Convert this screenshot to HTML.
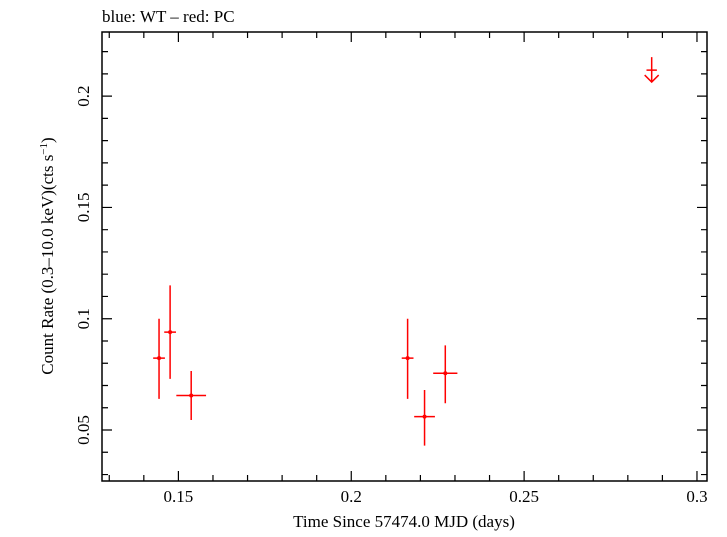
<!DOCTYPE html>
<html><head><meta charset="utf-8"><style>
body{margin:0;background:#fff;}
svg text{font-family:"Liberation Serif",serif;fill:#000;}
</style></head><body>
<svg id="chart" width="727" height="532" xmlns="http://www.w3.org/2000/svg">
<text x="102" y="22" font-size="17">blue: WT – red: PC</text>
<g id="axes"></g>
<g id="marks"></g>
<text x="404" y="527" font-size="17" text-anchor="middle">Time Since 57474.0 MJD (days)</text>
<text transform="translate(53,256) rotate(-90)" font-size="17" text-anchor="middle">Count Rate (0.3–10.0 keV)(cts s<tspan font-size="11" dy="-6">−1</tspan><tspan dy="6">)</tspan></text>
</svg>
<script>
const xs=[0.1444,0.1476,0.1537,0.2163,0.2212,0.2272];
const xerr=[0.0017,0.0017,0.0043,0.0017,0.003,0.0035];
const ys=[0.0823,0.094,0.0655,0.0823,0.056,0.0755];
const yhi=[0.1,0.115,0.0765,0.1,0.068,0.088];
const ylo=[0.064,0.073,0.0545,0.064,0.043,0.062];
const ulX=[0.2869];const ulXerr=[0.0015];const ulY=[0.2117];
const xTicks=[0.15,0.2,0.25,0.3];const xTickLabels=["0.15","0.2","0.25","0.3"];
const yTicks=[0.05,0.1,0.15,0.2];const yTickLabels=["0.05","0.1","0.15","0.2"];
const L=102,R=707,T=32,B=481,x0=0.1279,x1=0.3029,y0=0.0271,y1=0.2288;
const X=v=>L+(v-x0)/(x1-x0)*(R-L);
const Y=v=>B-(v-y0)/(y1-y0)*(B-T);
const NS="http://www.w3.org/2000/svg";
function mk(p,t,a){const e=document.createElementNS(NS,t);for(const k in a)e.setAttribute(k,a[k]);p.appendChild(e);return e;}
const ax=document.getElementById('axes'),mg=document.getElementById('marks');
const fr=mk(ax,'rect',{x:L,y:T,width:R-L,height:B-T,fill:'none',stroke:'#000','stroke-width':1.5});


for(let i=13;i<=30;i++){const v=i/100,x=X(v),maj=i%5==0,l=maj?10:6;
 const t=mk(ax,'path',{d:`M${x},${B}v${-l}M${x},${T}v${l}`,stroke:'#000','stroke-width':1.2});
 
 }
xTicks.forEach((v,i)=>{const t=mk(ax,'text',{x:X(v),y:B+21,'font-size':17,'text-anchor':'middle'});t.textContent=xTickLabels[i];
 
 });
for(let i=3;i<=22;i++){const v=i/100,y=Y(v),maj=i%5==0,l=maj?10:6;
 const t=mk(ax,'path',{d:`M${L},${y}h${l}M${R},${y}h${-l}`,stroke:'#000','stroke-width':1.2});
 
 }
yTicks.forEach((v,i)=>{const t=mk(ax,'text',{transform:`translate(${L-13},${Y(v)}) rotate(-90)`,'font-size':17,'text-anchor':'middle'});t.textContent=yTickLabels[i];
 
 });
xs.forEach((v,i)=>{const g=mk(mg,'g',{stroke:'#f00','stroke-width':1.5,fill:'#f00'});
 
 
 mk(g,'path',{d:`M${X(v-xerr[i])},${Y(ys[i])}H${X(v+xerr[i])}M${X(v)},${Y(yhi[i])}V${Y(ylo[i])}`});
 mk(g,'circle',{cx:X(v),cy:Y(ys[i]),r:2,stroke:'none'});});
ulX.forEach((v,i)=>{const g=mk(mg,'g',{stroke:'#f00','stroke-width':1.5,fill:'none'});
 
 
 const x=X(v),y=Y(ulY[i]);
 mk(g,'path',{d:`M${X(v-ulXerr[i])},${y}H${X(v+ulXerr[i])}M${x},${y-13}V${y+12}M${x-7},${y+5}L${x},${y+12}L${x+7},${y+5}`});});
</script>
</body></html>
